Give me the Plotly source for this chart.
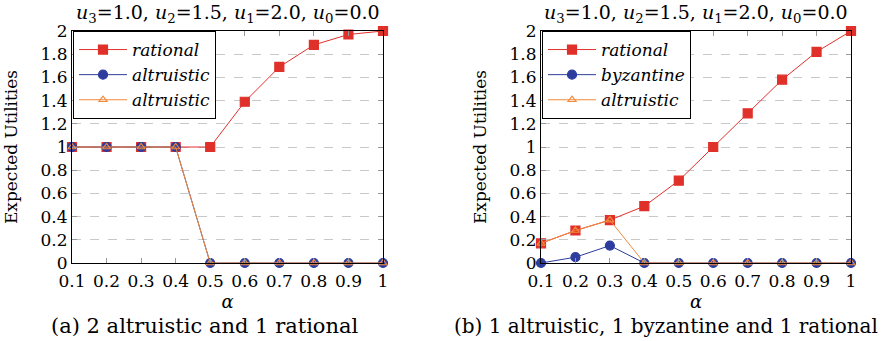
import plotly.graph_objects as go

alpha = [0.1, 0.2, 0.3, 0.4, 0.5, 0.6, 0.7, 0.8, 0.9, 1.0]
x_ticks = [0.1, 0.2, 0.3, 0.4, 0.5, 0.6, 0.7, 0.8, 0.9, 1.0]
x_tick_text = ["0.1", "0.2", "0.3", "0.4", "0.5", "0.6", "0.7", "0.8", "0.9", "1"]
y_ticks = [0, 0.2, 0.4, 0.6, 0.8, 1.0, 1.2, 1.4, 1.6, 1.8, 2.0]
y_tick_text = ["0", "0.2", "0.4", "0.6", "0.8", "1", "1.2", "1.4", "1.6", "1.8", "2"]

# (a) 2 altruistic and 1 rational
a_rational = [1.0, 1.0, 1.0, 1.0, 1.0, 1.39, 1.69, 1.88, 1.97, 2.0]
a_altruistic1 = [1.0, 1.0, 1.0, 1.0, 0, 0, 0, 0, 0, 0]
a_altruistic2 = [1.0, 1.0, 1.0, 1.0, 0, 0, 0, 0, 0, 0]

# (b) 1 altruistic, 1 byzantine and 1 rational
b_rational = [0.17, 0.28, 0.37, 0.49, 0.71, 1.0, 1.29, 1.58, 1.82, 2.0]
b_byzantine = [0, 0.05, 0.15, 0, 0, 0, 0, 0, 0, 0]
b_altruistic = [0.17, 0.28, 0.37, 0, 0, 0, 0, 0, 0, 0]

title_text = "<i>u</i><sub>3</sub>=1.0, <i>u</i><sub>2</sub>=1.5, <i>u</i><sub>1</sub>=2.0, <i>u</i><sub>0</sub>=0.0"
captions = ["(a) 2 altruistic and 1 rational", "(b) 1 altruistic, 1 byzantine and 1 rational"]

RED = "#e0302a"
BLUE = "#2c3d9e"
ORANGE = "#f3893a"
FONT = "DejaVu Serif"

W, H = 890, 341
fig = go.Figure()

def px_x(p):
    return p / W

def px_y(p):
    return 1 - p / H

panels = [
    dict(xd=(72, 383), cap=(205, 21), series=[("<i>rational</i>", a_rational, "square", RED, RED, 9),
                                ("<i>altruistic</i>", a_altruistic1, "circle", BLUE, BLUE, 9),
                                ("<i>altruistic</i>", a_altruistic2, "triangle-up-open", ORANGE, ORANGE, 7)]),
    dict(xd=(541, 851), cap=(666, 20), series=[("<i>rational</i>", b_rational, "square", RED, RED, 9),
                                 ("<i>byzantine</i>", b_byzantine, "circle", BLUE, BLUE, 9),
                                 ("<i>altruistic</i>", b_altruistic, "triangle-up-open", ORANGE, ORANGE, 7)]),
]

top, bottom = 31, 263
for i, p in enumerate(panels):
    xa = "x" if i == 0 else "x2"
    ya = "y" if i == 0 else "y2"
    leg = "legend" if i == 0 else "legend2"
    for name, vals, sym, lc, mc, ms in p["series"]:
        fig.add_trace(go.Scatter(
            x=alpha, y=vals, name=name, mode="lines+markers",
            xaxis=xa, yaxis=ya, legend=leg,
            line=dict(color=lc, width=1),
            marker=dict(symbol=sym, color=mc, size=ms, line=dict(width=1.2, color=mc)),
            cliponaxis=False,
        ))
    axkey = "" if i == 0 else "2"
    x0, x1 = p["xd"]
    fig.layout["xaxis" + axkey] = dict(
        domain=[px_x(x0), px_x(x1)], range=[0.1, 1.0], anchor=ya, automargin=False,
        tickvals=x_ticks, ticktext=x_tick_text, ticks="inside", ticklen=5,
        ticklabelstandoff=3,
        tickcolor="#9a9a9a", showline=True, linecolor="black", linewidth=1,
        mirror="ticks", showgrid=False, zeroline=False,
        tickfont=dict(family=FONT, size=17, color="black"),
        title=dict(text="<i>α</i>", font=dict(family=FONT, size=18, color="black"), standoff=0),
    )
    fig.layout["yaxis" + axkey] = dict(
        domain=[px_y(bottom), px_y(top)], range=[0, 2], anchor=xa, automargin=False,
        tickvals=y_ticks, ticktext=y_tick_text, ticks="inside", ticklen=5,
        tickcolor="#9a9a9a", showline=True, linecolor="black", linewidth=1,
        mirror="ticks", showgrid=True, gridcolor="#c8c8c8", griddash="dash", gridwidth=1,
        zeroline=False,
        tickfont=dict(family=FONT, size=17, color="black"),
        title=dict(text="Expected Utilities", font=dict(family=FONT, size=17, color="black"), standoff=18),
    )
    fig.layout[leg] = dict(
        x=px_x(x0 + 1), y=px_y(top), xanchor="left", yanchor="top",
        bgcolor="white", bordercolor="black", borderwidth=1,
        font=dict(family=FONT, size=17, color="black"),
        tracegroupgap=0, itemwidth=48,
    )
    cx = (x0 + x1) / 2
    fig.add_annotation(x=px_x(cx), y=px_y(14), xref="paper", yref="paper",
                       xanchor="center", yanchor="middle",
                       text=title_text, showarrow=False,
                       font=dict(family=FONT, size=19, color="black"))
    cap_x, cap_size = p["cap"]
    fig.add_annotation(x=px_x(cap_x), y=px_y(326), xref="paper", yref="paper",
                       xanchor="center", yanchor="middle",
                       text=captions[i], showarrow=False,
                       font=dict(family=FONT, size=cap_size, color="black"))

fig.update_layout(
    width=W, height=H, margin=dict(l=0, r=0, t=0, b=0, autoexpand=False),
    plot_bgcolor="white", paper_bgcolor="white", showlegend=True,
)
fig.write_html("out.html", config={"displayModeBar": False},
               post_script="document.body.style.margin='0';document.body.style.overflow='hidden';")
